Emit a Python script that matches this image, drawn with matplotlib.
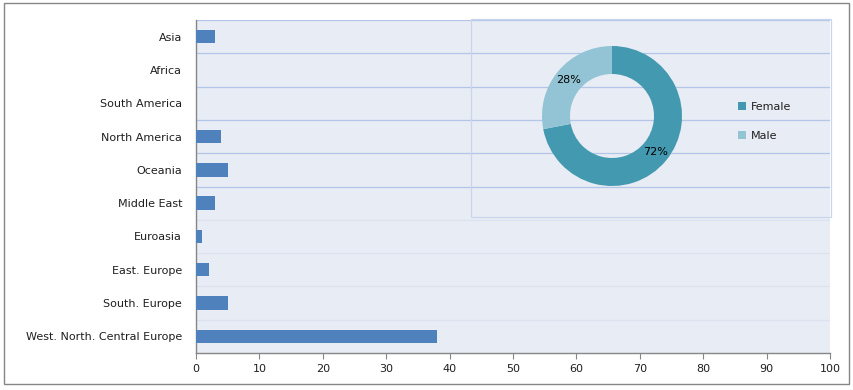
import numpy as np
import matplotlib.pyplot as plt
from matplotlib.patches import Rectangle

# Bar chart data (top to bottom as shown)
regions = ["Asia", "Africa", "South America", "North America", "Oceania",
           "Middle East", "Euroasia", "East. Europe", "South. Europe",
           "West. North. Central Europe"]
counts = [3, 0, 0, 4, 5, 3, 1, 2, 5, 38]

# Donut data
genders = ["Female", "Male"]
shares = [72, 28]

bar_color = "#4F81BD"
pie_colors = ["#4399B0", "#93C4D5"]
bg = "#E8ECF4"
txt = "#1F1F1F"

plt.rcParams["font.family"] = "DejaVu Sans"
W, H = 854, 390
fig = plt.figure(figsize=(W / 100, H / 100), dpi=100)

ax = fig.add_axes([196 / W, 1 - 353 / H, (830 - 196) / W, (353 - 20) / H])
ax.set_facecolor(bg)
ypos = np.arange(len(regions))[::-1]
ax.barh(ypos, counts, height=0.4, color=bar_color, zorder=3)
ax.set_xlim(0, 100)
ax.set_ylim(-0.5, len(regions) - 0.5)
ax.set_xticks(np.arange(0, 101, 10))
ax.set_yticks(ypos)
ax.set_yticklabels(regions)
ax.tick_params(axis="x", length=4, color="#868686", labelsize=8, pad=4, labelcolor=txt)
ax.tick_params(axis="y", length=0, labelsize=8, pad=10, labelcolor=txt)

# category boundary gridlines: strong in upper part, faint below
for b in np.arange(0.5, len(regions), 1.0):
    col = "#B4C6E7" if b >= 4.5 else "#DCE2EE"
    ax.axhline(b, color=col, lw=0.9, zorder=1)
for s in ["top", "right"]:
    ax.spines[s].set_visible(False)
for s in ["left", "bottom"]:
    ax.spines[s].set_color("#868686")
    ax.spines[s].set_linewidth(1)

# donut panel frame
fig.patches.append(Rectangle((471 / W, 1 - 217 / H), (831 - 471) / W, (217 - 19) / H,
                             transform=fig.transFigure, facecolor="none",
                             edgecolor="#C9D5EC", lw=0.9, zorder=2))

# donut chart
R = 70
cx, cy = 612, 116
pax = fig.add_axes([(cx - R) / W, 1 - (cy + R) / H, 2 * R / W, 2 * R / H])
pax.set_facecolor("none")
wedges, _, autotexts = pax.pie(shares, colors=pie_colors, startangle=90,
                               counterclock=False, autopct="%1.0f%%",
                               pctdistance=0.8, radius=1,
                               wedgeprops=dict(width=0.4, edgecolor="none"),
                               textprops=dict(fontsize=8, color="black"))
pax.set_xlim(-1, 1)
pax.set_ylim(-1, 1)
pax.set_aspect("equal")

leg = fig.legend(wedges, genders, loc="center left",
                 bbox_to_anchor=(728 / W, 1 - 121.5 / H), frameon=False,
                 fontsize=8, handlelength=0.75, handleheight=0.75,
                 handletextpad=0.4, labelspacing=1.75)
for t in leg.get_texts():
    t.set_color(txt)

# outer border
fig.patches.append(Rectangle((4 / W, 1 - 384 / H), 845 / W, 381 / H,
                             transform=fig.transFigure, facecolor="none",
                             edgecolor="#868686", lw=1))

fig.savefig("out.png", dpi=100)
